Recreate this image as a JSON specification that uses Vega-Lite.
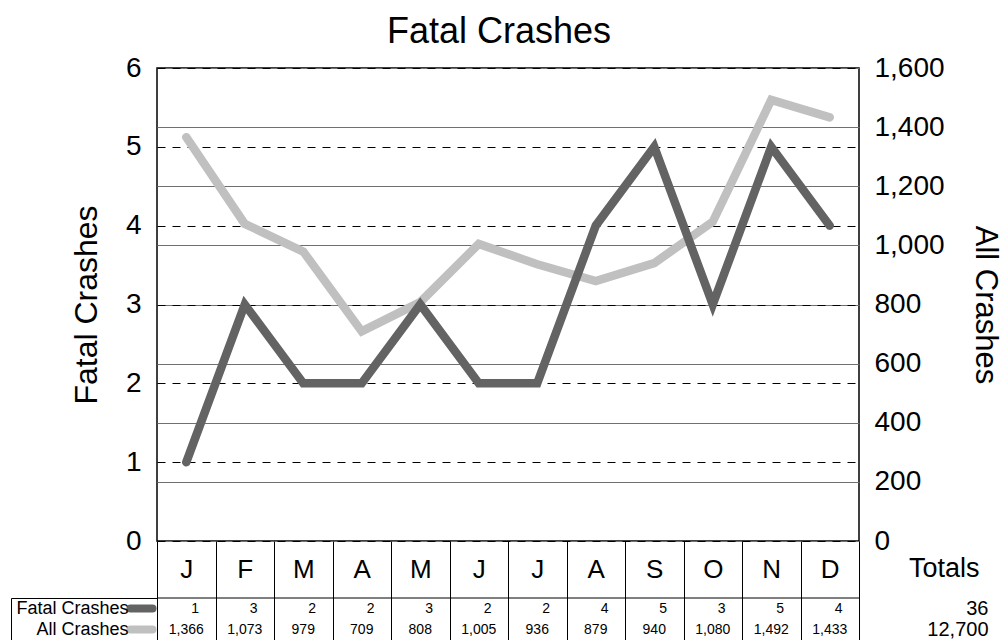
{
  "$schema": "https://vega.github.io/schema/vega-lite/v6.json",
  "background": "white",
  "padding": {"left": 10, "top": 13, "right": 5, "bottom": 0},
  "config": {
    "font": "Liberation Sans",
    "view": {"stroke": "black", "strokeWidth": 1.5},
    "axis": {"labelColor": "black", "titleColor": "black", "labelFont": "Liberation Sans", "titleFont": "Liberation Sans", "titleFontWeight": "normal"},
    "title": {"font": "Liberation Sans", "color": "black", "fontWeight": "normal"}
  },
  "datasets": {
    "crashes": [
      {"month": "Jan", "series": "Fatal Crashes", "value": 1},
      {"month": "Feb", "series": "Fatal Crashes", "value": 3},
      {"month": "Mar", "series": "Fatal Crashes", "value": 2},
      {"month": "Apr", "series": "Fatal Crashes", "value": 2},
      {"month": "May", "series": "Fatal Crashes", "value": 3},
      {"month": "Jun", "series": "Fatal Crashes", "value": 2},
      {"month": "Jul", "series": "Fatal Crashes", "value": 2},
      {"month": "Aug", "series": "Fatal Crashes", "value": 4},
      {"month": "Sep", "series": "Fatal Crashes", "value": 5},
      {"month": "Oct", "series": "Fatal Crashes", "value": 3},
      {"month": "Nov", "series": "Fatal Crashes", "value": 5},
      {"month": "Dec", "series": "Fatal Crashes", "value": 4},
      {"month": "Jan", "series": "All Crashes", "value": 1366},
      {"month": "Feb", "series": "All Crashes", "value": 1073},
      {"month": "Mar", "series": "All Crashes", "value": 979},
      {"month": "Apr", "series": "All Crashes", "value": 709},
      {"month": "May", "series": "All Crashes", "value": 808},
      {"month": "Jun", "series": "All Crashes", "value": 1005},
      {"month": "Jul", "series": "All Crashes", "value": 936},
      {"month": "Aug", "series": "All Crashes", "value": 879},
      {"month": "Sep", "series": "All Crashes", "value": 940},
      {"month": "Oct", "series": "All Crashes", "value": 1080},
      {"month": "Nov", "series": "All Crashes", "value": 1492},
      {"month": "Dec", "series": "All Crashes", "value": 1433}
    ]
  },
  "bounds": "flush",
  "spacing": 57,
  "vconcat": [
    {
      "title": {"text": "Fatal Crashes", "fontSize": 36, "anchor": "middle", "offset": 3, "dx": -9},
      "width": 702,
      "height": 473,
      "data": {"name": "crashes"},
      "layer": [
        {
          "transform": [{"filter": "datum.series === 'All Crashes'"}],
          "mark": {"type": "line", "color": "#c0c0c0", "strokeWidth": 8.5, "strokeCap": "round"},
          "encoding": {
            "x": {"field": "month", "type": "ordinal", "scale": {"type": "band", "domain": ["Jan","Feb","Mar","Apr","May","Jun","Jul","Aug","Sep","Oct","Nov","Dec"], "paddingInner": 0, "paddingOuter": 0},
              "axis": {"orient": "bottom", "title": null, "domain": false, "ticks": true, "tickBand": "extent", "tickSize": 99, "tickColor": "black", "tickWidth": 1, "labelAngle": 0, "labelAlign": "center", "labelFontSize": 26, "labelPadding": -70.5, "labelBaseline": "middle", "labelExpr": "slice(datum.label, 0, 1)", "grid": false}},
            "y": {"field": "value", "type": "quantitative", "scale": {"domain": [0, 1600], "nice": false},
              "axis": {"orient": "right", "title": "All Crashes", "titleFontSize": 31, "titlePadding": 24, "values": [0,200,400,600,800,1000,1200,1400,1600], "format": ",d", "labelFontSize": 28, "labelPadding": 15, "ticks": false, "domain": false, "grid": true, "gridColor": "#707070", "gridWidth": 1.2}}
          }
        },
        {
          "transform": [{"filter": "datum.series === 'Fatal Crashes'"}],
          "mark": {"type": "line", "color": "#636363", "strokeWidth": 8.5, "strokeCap": "round"},
          "encoding": {
            "x": {"field": "month", "type": "ordinal", "scale": {"type": "band", "domain": ["Jan","Feb","Mar","Apr","May","Jun","Jul","Aug","Sep","Oct","Nov","Dec"], "paddingInner": 0, "paddingOuter": 0}},
            "y": {"field": "value", "type": "quantitative", "scale": {"domain": [0, 6], "nice": false},
              "axis": {"orient": "left", "title": "Fatal Crashes", "titleFontSize": 32, "titlePadding": 22, "values": [0,1,2,3,4,5,6], "labelFontSize": 28, "labelPadding": 16, "ticks": false, "domain": false, "grid": true, "gridDash": [8, 7], "gridColor": "black", "gridWidth": 1}}
          }
        }
      ],
      "resolve": {"scale": {"y": "independent"}, "axis": {"y": "independent"}}
    },
    {
      "width": 702,
      "height": 42,
      "data": {"name": "crashes"},
      "view": {"stroke": null},
      "layer": [
        {
          "transform": [{"filter": "datum.series === 'Fatal Crashes' && datum.month === 'Jan'"}],
          "mark": {"type": "rule", "color": "black", "strokeWidth": 1},
          "encoding": {
            "y": {"field": "series", "type": "nominal", "bandPosition": 0, "scale": {"type": "band", "domain": ["Fatal Crashes", "All Crashes"], "paddingInner": 0, "paddingOuter": 0},
              "axis": {"orient": "left", "offset": 146, "domain": true, "domainColor": "black", "ticks": true, "values": ["Fatal Crashes"], "bandPosition": 0, "tickSize": -146, "tickColor": "black", "labels": false, "title": null, "grid": false}}
          }
        },
        {
          "transform": [{"filter": "datum.series === 'Fatal Crashes'"}],
          "mark": {"type": "text", "fontSize": 14, "dx": 9, "color": "black"},
          "encoding": {
            "x": {"field": "month", "type": "ordinal", "scale": {"type": "band", "domain": ["Jan","Feb","Mar","Apr","May","Jun","Jul","Aug","Sep","Oct","Nov","Dec"], "paddingInner": 0, "paddingOuter": 0}, "axis": null},
            "y": {"field": "series", "type": "nominal", "scale": {"type": "band", "domain": ["Fatal Crashes", "All Crashes"], "paddingInner": 0, "paddingOuter": 0},
              "axis": {"orient": "left", "offset": 5, "domain": false, "ticks": true, "tickSize": 22, "tickWidth": 8, "tickCap": "round", "tickColor": {"condition": {"test": "datum.value === 'Fatal Crashes'", "value": "#636363"}, "value": "#c0c0c0"}, "labelFontSize": 18, "labelPadding": 2, "title": null, "grid": false}},
            "text": {"field": "value", "type": "quantitative", "format": ",d"}
          }
        },
        {
          "transform": [{"filter": "datum.series === 'All Crashes'"}],
          "mark": {"type": "text", "fontSize": 14, "color": "black"},
          "encoding": {
            "x": {"field": "month", "type": "ordinal", "scale": {"type": "band", "domain": ["Jan","Feb","Mar","Apr","May","Jun","Jul","Aug","Sep","Oct","Nov","Dec"], "paddingInner": 0, "paddingOuter": 0}, "axis": null},
            "y": {"field": "series", "type": "nominal", "scale": {"type": "band", "domain": ["Fatal Crashes", "All Crashes"], "paddingInner": 0, "paddingOuter": 0},
              "axis": {"orient": "right", "domain": false, "ticks": false, "labelExpr": "datum.value === 'Fatal Crashes' ? '36' : '12,700'", "labelAlign": "right", "labelPadding": 129, "labelFontSize": 20, "title": "Totals", "titleAngle": 0, "titleFontSize": 27, "titleAlign": "right", "titleBaseline": "middle", "titleX": 120, "titleY": -30, "grid": false}},
            "text": {"field": "value", "type": "quantitative", "format": ",d"}
          }
        }
      ],
      "resolve": {"axis": {"y": "independent"}}
    }
  ]
}
